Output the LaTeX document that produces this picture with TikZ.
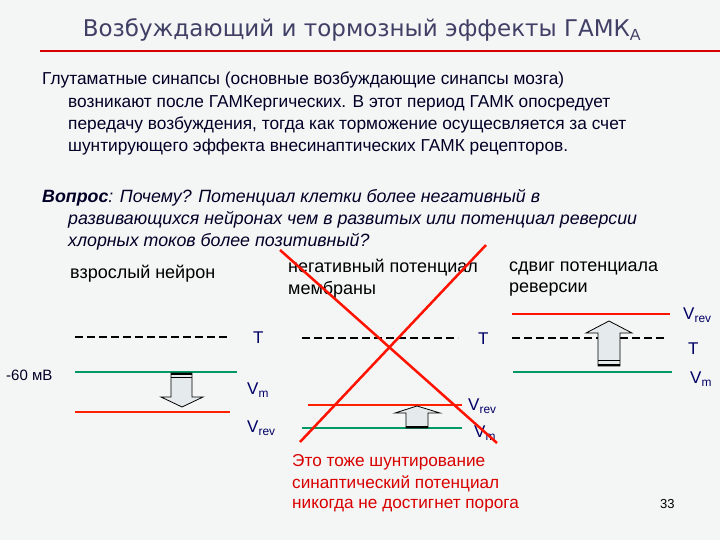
\documentclass[tikz,border=0pt]{standalone}
\usepackage{fontspec}
\setmainfont{Liberation Sans}
\newfontfamily\titlefont{DejaVu Sans}
\begin{document}
\begin{tikzpicture}[x=1pt,y=-1pt,
  txt/.style={anchor=west,inner sep=0pt,font=\fontsize{17.3}{20}\selectfont,text=black!85!blue},
  hdr/.style={anchor=west,inner sep=0pt,font=\fontsize{18}{20}\selectfont,text=black},
  lbl/.style={anchor=west,inner sep=0pt,font=\fontsize{17}{19}\selectfont,text=blue!40!black},
  redtxt/.style={anchor=west,inner sep=0pt,font=\fontsize{17.2}{18}\selectfont,text=red!85!black},
  dline/.style={dashed,dash pattern=on 8pt off 4pt,line width=1.6pt},
  tline/.style={draw=teal!80!green,line width=1.5pt},
  rline/.style={draw=red!75!orange,line width=1.5pt},
  cross/.style={draw=red!85!orange,line width=2.5pt},
  barrow/.style={draw=black,fill=cyan!15!gray!20,line width=0.8pt}]
\fill[blue!4!cyan!5!gray!8!white] (0,0) rectangle (720,540);
\useasboundingbox (0,0) rectangle (720,540);
\node (title) at (362,30) [inner sep=0pt,font=\titlefont\fontsize{23}{26}\selectfont,text=blue!20!black!75] {Возбуждающий и тормозный эффекты ГАМК$_{\mathrm{A}}$};
\coordinate (ta) at (40,51); \coordinate (tb) at (720,51);
\draw[red!85!black,line width=1.5pt] (ta) -- (tb);
\node[txt] (p1) at (42,80) {Глутаматные синапсы (основные возбуждающие синапсы мозга)};
\node[txt] (p2) at (68,103) {возникают после ГАМКергических. В этот период ГАМК опосредует};
\node[txt] (p3) at (68,125) {передачу возбуждения, тогда как торможение осущесвляется за счет};
\node[txt] (p4) at (68,147) {шунтирующего эффекта внесинаптических ГАМК рецепторов.};
\node[txt,font=\fontsize{17.8}{20}\selectfont\itshape] (q1) at (42,198) {\textbf{Вопрос}: Почему? Потенциал клетки более негативный в};
\node[txt,font=\fontsize{17.8}{20}\selectfont\itshape] (q2) at (68,220) {развивающихся нейронах чем в развитых или потенциал реверсии};
\node[txt,font=\fontsize{17.8}{20}\selectfont\itshape] (q3) at (68,242) {хлорных токов более позитивный?};
\node[hdr] (h1) at (70,274) {взрослый нейрон};
\node[hdr] (h2a) at (288,268) {негативный потенциал};
\node[hdr] (h2b) at (288,290) {мембраны};
\node[hdr] (h3a) at (509,268) {сдвиг потенциала};
\node[hdr] (h3b) at (509,290) {реверсии};
% left
\coordinate (l1a) at (75,337); \coordinate (l1b) at (230,337);
\draw[dline] (l1a) -- (l1b);
\coordinate (l2a) at (75,372); \coordinate (l2b) at (237,372);
\draw[tline] (l2a) -- (l2b);
\coordinate (l3a) at (75,412); \coordinate (l3b) at (230,412);
\draw[rline] (l3a) -- (l3b);
\node[lbl] (lT) at (253,338) {T};
\node[lbl] (lVm) at (247,390) {V$_{\mathrm{m}}$};
\node[lbl] (lVr) at (247,428) {V$_{\mathrm{rev}}$};
\node[txt,font=\fontsize{15}{16}\selectfont] (mv) at (6,375) {-60 мВ};
\draw[barrow] (171,373) -- (192,373) -- (192,397) -- (203,397) -- (182,407) -- (161,397) -- (171,397) -- cycle;
\draw[line width=2pt] (171,373.5) -- (192,373.5);
\draw[line width=1pt] (171,377) -- (192,377);
% middle
\coordinate (m1a) at (302,338); \coordinate (m1b) at (458,338);
\draw[dline] (m1a) -- (m1b);
\coordinate (m2a) at (308,405); \coordinate (m2b) at (462,405);
\draw[rline] (m2a) -- (m2b);
\coordinate (m3a) at (302,428); \coordinate (m3b) at (462,428);
\draw[tline] (m3a) -- (m3b);
\node[lbl] (mT) at (478,339) {T};
\node[lbl] (mVr) at (468,406) {V$_{\mathrm{rev}}$};
\node[lbl] (mVm) at (474,433) {V$_{\mathrm{m}}$};
\draw[barrow] (406,428) -- (406,413) -- (395,413) -- (417,406) -- (440,413) -- (428,413) -- (428,428) -- cycle;
\draw[line width=1.5pt] (406,427) -- (428,427);
% right
\coordinate (r1a) at (512,314); \coordinate (r1b) at (670,314);
\draw[rline,draw=red!85!orange] (r1a) -- (r1b);
\coordinate (r2a) at (512,338); \coordinate (r2b) at (665,338);
\draw[dline] (r2a) -- (r2b);
\coordinate (r3a) at (513,372); \coordinate (r3b) at (672,372);
\draw[tline] (r3a) -- (r3b);
\node[lbl] (rVr) at (683,315) {V$_{\mathrm{rev}}$};
\node[lbl] (rT) at (688,349) {T};
\node[lbl] (rVm) at (690,379) {V$_{\mathrm{m}}$};
\draw[barrow] (598,366) -- (598,333) -- (586,333) -- (609,321) -- (632,333) -- (620,333) -- (620,366) -- cycle;
\draw[line width=1.5pt] (598,365) -- (620,365);
\draw[line width=1pt] (598,360) -- (620,360);
% cross
\coordinate (c1a) at (280,250); \coordinate (c1b) at (497,443);
\coordinate (c2a) at (486,245); \coordinate (c2b) at (300,442);
\draw[cross] (c1a) -- (c1b);
\draw[cross] (c2a) -- (c2b);
\node[redtxt] (s1) at (292,462) {Это тоже шунтирование};
\node[redtxt] (s2) at (292,484) {синаптический потенциал};
\node[redtxt] (s3) at (292,506) {никогда не достигнет порога};
\node[txt,font=\fontsize{13}{15}\selectfont,text=black] (pg) at (660,504) {33};
\end{tikzpicture}
\end{document}
